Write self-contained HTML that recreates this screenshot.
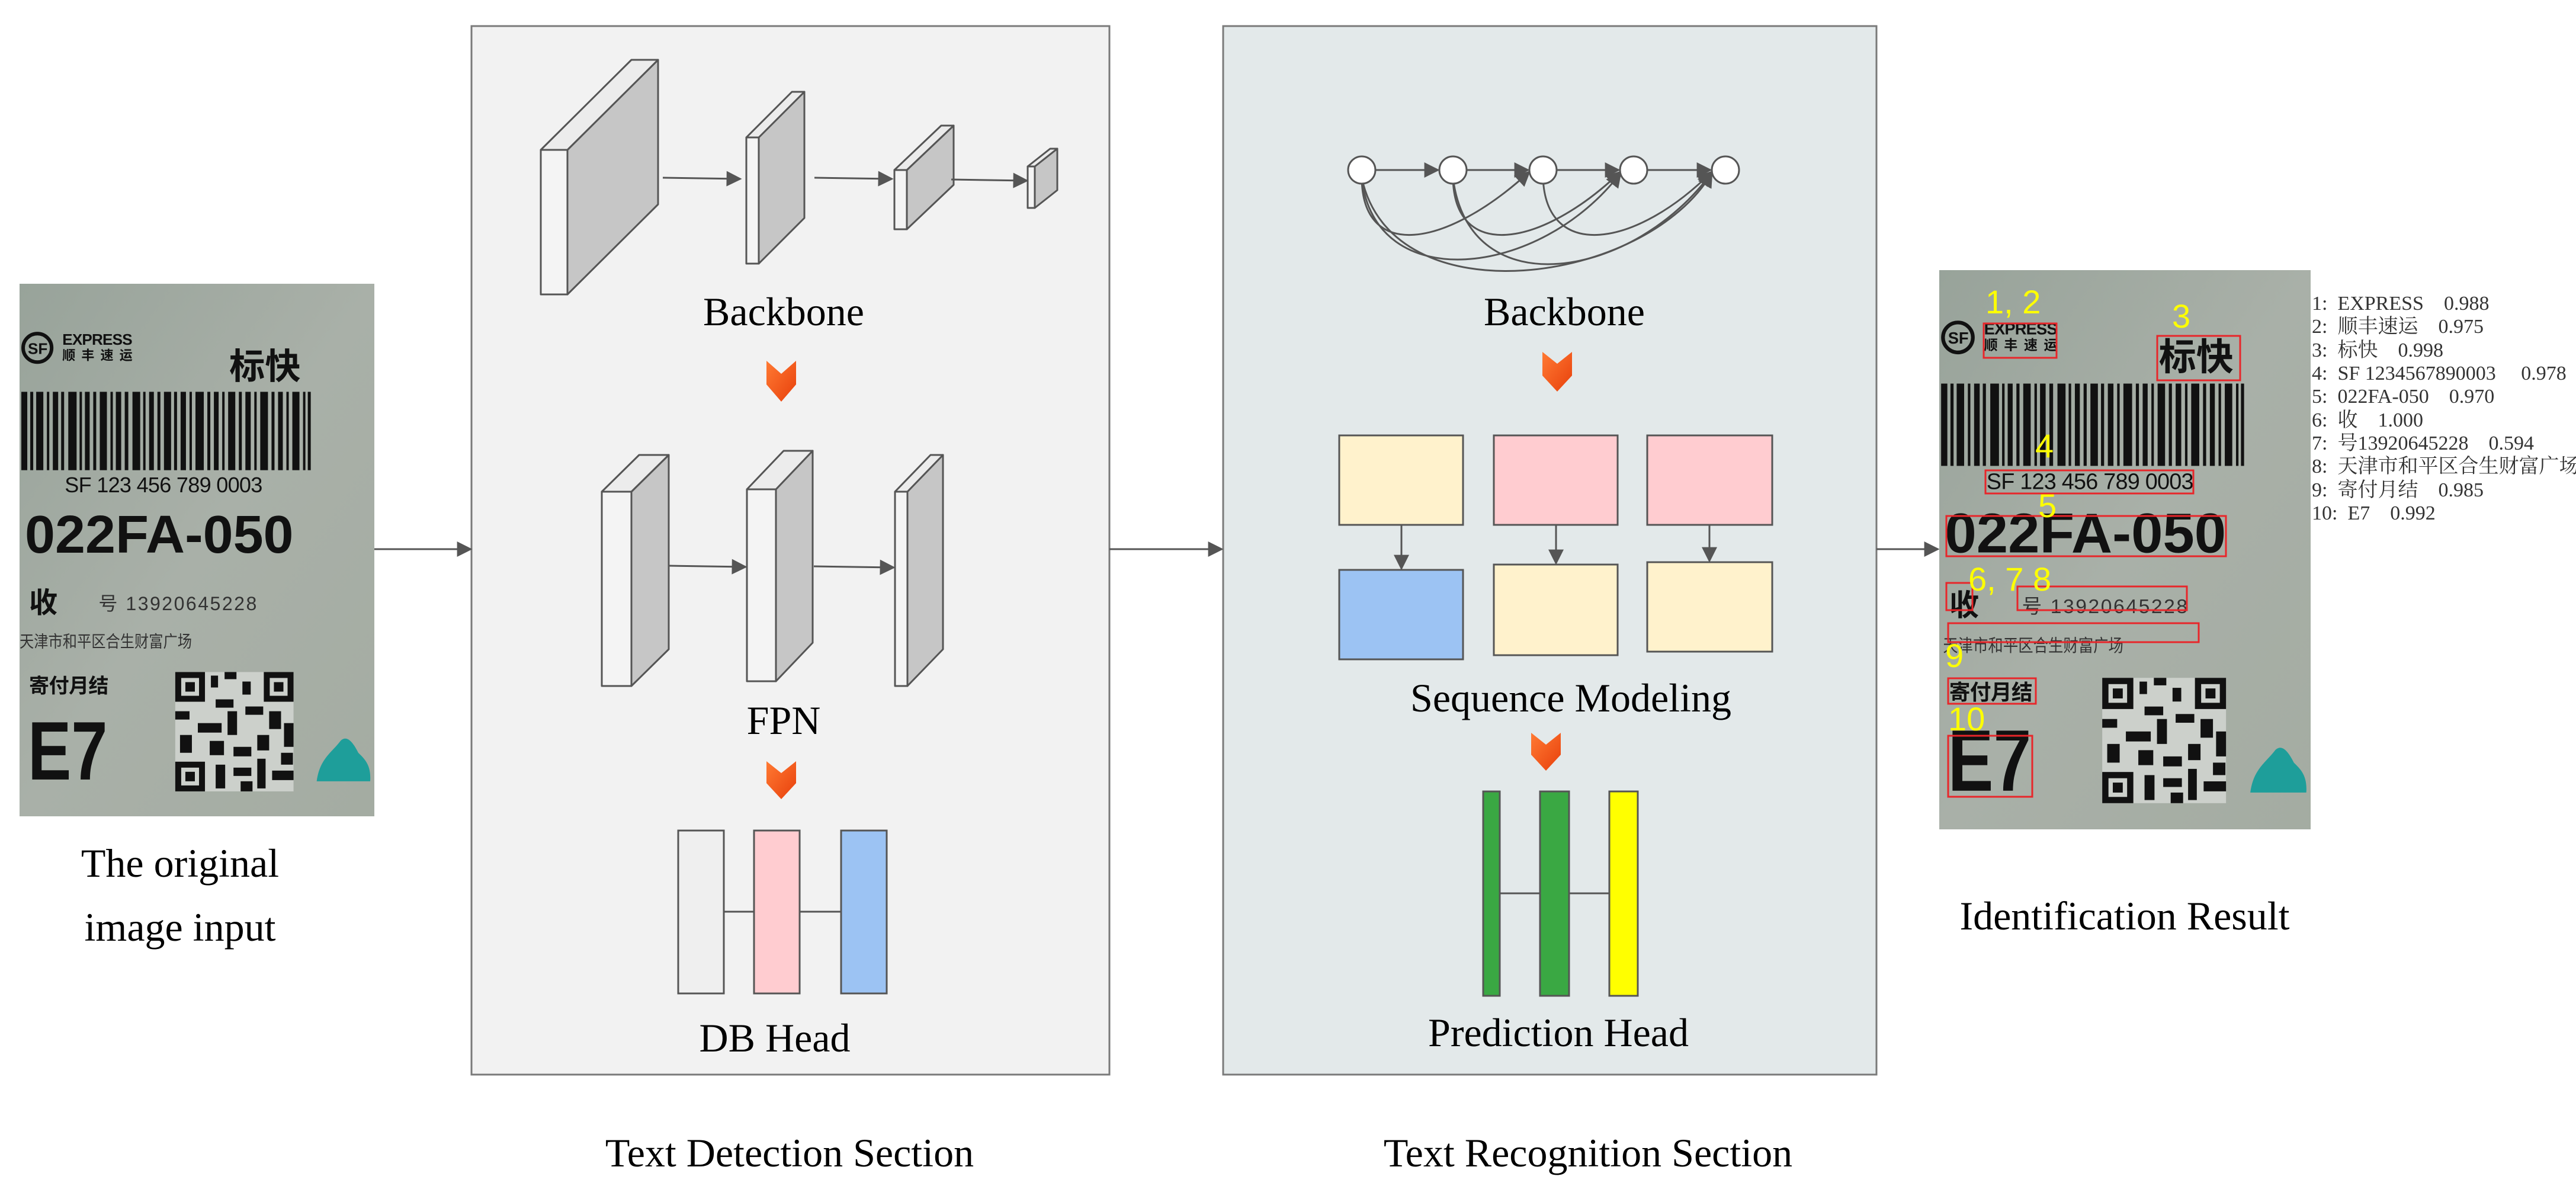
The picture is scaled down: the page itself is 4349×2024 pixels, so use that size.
<!DOCTYPE html>
<html><head><meta charset="utf-8"><style>
html,body{margin:0;padding:0;background:#fff;}
svg text{font-family:"Liberation Serif","Noto Serif CJK SC",serif;}
.sans{font-family:"Liberation Sans","Noto Sans CJK SC",sans-serif;}
</style></head><body>
<svg width="4349" height="2024" viewBox="0 0 4349 2024" xmlns="http://www.w3.org/2000/svg" style="display:block">
<defs>
<marker id="ahb" viewBox="0 0 10 10" refX="9" refY="5" markerWidth="30" markerHeight="26" markerUnits="userSpaceOnUse" orient="auto"><path d="M0,0 L10,5 L0,10 z" fill="#555"/></marker>
<linearGradient id="chev" x1="0" y1="0" x2="1" y2="1"><stop offset="0" stop-color="#ff7a33"/><stop offset="1" stop-color="#e8400c"/></linearGradient>
<linearGradient id="photo" x1="0" y1="0" x2="1" y2="1"><stop offset="0" stop-color="#98a39a"/><stop offset="0.5" stop-color="#a9b0a8"/><stop offset="1" stop-color="#a4aca2"/></linearGradient>
</defs>

<rect x="796" y="44" width="1077" height="1770" fill="#f2f2f2" stroke="#7a7a7a" stroke-width="3"/>
<rect x="2065" y="44" width="1103" height="1770" fill="#e3e9ea" stroke="#7a7a7a" stroke-width="3"/>

<line x1="632" y1="927" x2="795" y2="927" stroke="#555" stroke-width="3" marker-end="url(#ahb)"/>
<line x1="1873" y1="927" x2="2063" y2="927" stroke="#555" stroke-width="3" marker-end="url(#ahb)"/>
<line x1="3168" y1="927" x2="3272" y2="927" stroke="#555" stroke-width="3" marker-end="url(#ahb)"/>

<g stroke="#555" stroke-width="3" stroke-linejoin="round">
<polygon points="958,253 1111,101 1111,345 958,497" fill="#c6c6c6"/>
<polygon points="913,253 1066,101 1111,101 958,253" fill="#ececec"/>
<rect x="913" y="253" width="45" height="244" fill="#f4f4f4"/>
<polygon points="1281,232 1358,155 1358,368 1281,445" fill="#c6c6c6"/>
<polygon points="1260,232 1337,155 1358,155 1281,232" fill="#ececec"/>
<rect x="1260" y="232" width="21" height="213" fill="#f4f4f4"/>
<polygon points="1531,287 1610,212 1610,312 1531,387" fill="#c6c6c6"/>
<polygon points="1510,287 1589,212 1610,212 1531,287" fill="#ececec"/>
<rect x="1510" y="287" width="21" height="100" fill="#f4f4f4"/>
<polygon points="1747,281 1785,251 1785,321 1747,351" fill="#c6c6c6"/>
<polygon points="1735,281 1773,251 1785,251 1747,281" fill="#ececec"/>
<rect x="1735" y="281" width="12" height="70" fill="#f4f4f4"/>
<polygon points="1066,830 1129,768 1129,1096 1066,1158" fill="#c6c6c6"/>
<polygon points="1016,830 1079,768 1129,768 1066,830" fill="#ececec"/>
<rect x="1016" y="830" width="50" height="328" fill="#f4f4f4"/>
<polygon points="1310,826 1372,761 1372,1085 1310,1150" fill="#c6c6c6"/>
<polygon points="1261,826 1323,761 1372,761 1310,826" fill="#ececec"/>
<rect x="1261" y="826" width="49" height="324" fill="#f4f4f4"/>
<polygon points="1532,830 1592,768 1592,1096 1532,1158" fill="#c6c6c6"/>
<polygon points="1511,830 1571,768 1592,768 1532,830" fill="#ececec"/>
<rect x="1511" y="830" width="21" height="328" fill="#f4f4f4"/>
</g>
<g stroke="#555" stroke-width="3" fill="none">
<line x1="1119" y1="300" x2="1250" y2="302" marker-end="url(#ahb)"/>
<line x1="1375" y1="300" x2="1506" y2="302" marker-end="url(#ahb)"/>
<line x1="1606" y1="303" x2="1734" y2="305" marker-end="url(#ahb)"/>
<line x1="1130" y1="955" x2="1259" y2="957" marker-end="url(#ahb)"/>
<line x1="1374" y1="956" x2="1509" y2="958" marker-end="url(#ahb)"/>
</g>

<text x="1323" y="549" font-size="68" text-anchor="middle" fill="#000">Backbone</text>
<polygon points="1294,609 1319,631 1344,609 1344,649 1319,678 1294,649" fill="url(#chev)"/>
<text x="1323" y="1239" font-size="68" text-anchor="middle" fill="#000">FPN</text>
<polygon points="1294,1285 1319,1305 1344,1285 1344,1322 1319,1349 1294,1322" fill="url(#chev)"/>

<line x1="1222" y1="1539" x2="1420" y2="1539" stroke="#555" stroke-width="3"/>
<rect x="1145" y="1402" width="77" height="275" fill="#efefef" stroke="#555" stroke-width="3"/>
<rect x="1273" y="1402" width="77" height="275" fill="#ffccd0" stroke="#555" stroke-width="3"/>
<rect x="1420" y="1402" width="77" height="275" fill="#9cc3f3" stroke="#555" stroke-width="3"/>
<text x="1308" y="1775" font-size="68" text-anchor="middle">DB Head</text>
<text x="1333" y="1969" font-size="68" text-anchor="middle">Text Detection Section</text>

<g stroke="#555" stroke-width="3" fill="none">
<path d="M2299,300 C2300,440 2440,420 2582,290" marker-end="url(#ahb)"/>
<path d="M2299,300 C2320,500 2600,470 2736,292" marker-end="url(#ahb)"/>
<path d="M2299,300 C2350,540 2780,480 2890,292" marker-end="url(#ahb)"/>
<path d="M2453,300 C2455,440 2600,420 2736,290" marker-end="url(#ahb)"/>
<path d="M2453,300 C2480,520 2760,470 2890,291" marker-end="url(#ahb)"/>
<path d="M2605,300 C2610,440 2760,420 2890,290" marker-end="url(#ahb)"/>
<line x1="2323" y1="287" x2="2428" y2="287" marker-end="url(#ahb)"/>
<line x1="2477" y1="287" x2="2580" y2="287" marker-end="url(#ahb)"/>
<line x1="2629" y1="287" x2="2733" y2="287" marker-end="url(#ahb)"/>
<line x1="2782" y1="287" x2="2888" y2="287" marker-end="url(#ahb)"/>
</g>
<g fill="#fff" stroke="#555" stroke-width="3">
<circle cx="2299" cy="287" r="23"/><circle cx="2453" cy="287" r="23"/><circle cx="2605" cy="287" r="23"/><circle cx="2758" cy="287" r="23"/><circle cx="2913" cy="287" r="23"/>
</g>
<text x="2641" y="549" font-size="68" text-anchor="middle">Backbone</text>
<polygon points="2604,594 2629,614 2654,594 2654,634 2629,661 2604,634" fill="url(#chev)"/>

<g stroke="#555" stroke-width="3">
<rect x="2261" y="735" width="209" height="151" fill="#fff2cc"/>
<rect x="2522" y="735" width="209" height="151" fill="#ffccd0"/>
<rect x="2781" y="735" width="211" height="151" fill="#ffccd0"/>
<rect x="2261" y="962" width="209" height="151" fill="#9cc3f3"/>
<rect x="2522" y="953" width="209" height="153" fill="#fff2cc"/>
<rect x="2781" y="949" width="211" height="151" fill="#fff2cc"/>
<line x1="2366" y1="886" x2="2366" y2="960" marker-end="url(#ahb)"/>
<line x1="2627" y1="886" x2="2627" y2="951" marker-end="url(#ahb)"/>
<line x1="2886" y1="886" x2="2886" y2="947" marker-end="url(#ahb)"/>
</g>
<text x="2652" y="1201" font-size="68" text-anchor="middle">Sequence Modeling</text>
<polygon points="2585,1237 2610,1257 2635,1237 2635,1274 2610,1301 2585,1274" fill="url(#chev)"/>

<line x1="2532" y1="1508" x2="2717" y2="1508" stroke="#555" stroke-width="3"/>
<rect x="2504" y="1336" width="28" height="345" fill="#3aa843" stroke="#555" stroke-width="3"/>
<rect x="2600" y="1336" width="49" height="345" fill="#3aa843" stroke="#555" stroke-width="3"/>
<rect x="2717" y="1336" width="48" height="345" fill="#ffff00" stroke="#555" stroke-width="3"/>
<text x="2631" y="1766" font-size="68" text-anchor="middle">Prediction Head</text>
<text x="2681" y="1969" font-size="68" text-anchor="middle">Text Recognition Section</text>

<svg x="33" y="479" width="599" height="899" viewBox="0 0 597 897" preserveAspectRatio="none">
<rect width="597" height="897" fill="url(#photo)"/>
<g class="sans" fill="#111">
<circle cx="30" cy="108" r="24" fill="none" stroke="#111" stroke-width="6"/>
<text x="14" y="118" font-size="26" font-weight="bold" class="sans">SF</text>
<text x="72" y="103" font-size="26" font-weight="bold" class="sans" textLength="118">EXPRESS</text>
<text x="72" y="128" font-size="22" font-weight="bold" class="sans" textLength="118">顺丰速运</text>
<text x="353" y="160" font-size="60" font-weight="bold" class="sans">标快</text>
<g>
<rect x="3" y="182" width="10" height="132"/><rect x="18" y="182" width="5" height="132"/><rect x="28" y="182" width="12" height="132"/><rect x="46" y="182" width="4" height="132"/><rect x="56" y="182" width="9" height="132"/><rect x="70" y="182" width="5" height="132"/><rect x="82" y="182" width="14" height="132"/><rect x="101" y="182" width="4" height="132"/><rect x="110" y="182" width="8" height="132"/><rect x="124" y="182" width="5" height="132"/><rect x="135" y="182" width="12" height="132"/><rect x="153" y="182" width="4" height="132"/><rect x="162" y="182" width="9" height="132"/><rect x="177" y="182" width="6" height="132"/><rect x="190" y="182" width="13" height="132"/><rect x="208" y="182" width="4" height="132"/><rect x="218" y="182" width="8" height="132"/><rect x="232" y="182" width="5" height="132"/><rect x="243" y="182" width="12" height="132"/><rect x="260" y="182" width="5" height="132"/><rect x="271" y="182" width="9" height="132"/><rect x="286" y="182" width="4" height="132"/><rect x="296" y="182" width="14" height="132"/><rect x="316" y="182" width="5" height="132"/><rect x="327" y="182" width="8" height="132"/><rect x="341" y="182" width="4" height="132"/><rect x="351" y="182" width="12" height="132"/><rect x="369" y="182" width="5" height="132"/><rect x="380" y="182" width="9" height="132"/><rect x="395" y="182" width="4" height="132"/><rect x="405" y="182" width="13" height="132"/><rect x="424" y="182" width="5" height="132"/><rect x="435" y="182" width="8" height="132"/><rect x="449" y="182" width="4" height="132"/><rect x="459" y="182" width="12" height="132"/><rect x="477" y="182" width="4" height="132"/><rect x="485" y="182" width="5" height="132"/>
</g>
<text x="76" y="351" font-size="36" class="sans" textLength="333">SF 123 456 789 0003</text>
<text x="9" y="453" font-size="90" font-weight="bold" class="sans" textLength="452" lengthAdjust="spacingAndGlyphs">022FA-050</text>
<text x="16" y="554" font-size="48" font-weight="bold" class="sans">收</text>
<text x="133" y="550" font-size="32" class="sans" textLength="266" fill="#333">号 13920645228</text>
<text x="0" y="612" font-size="28" class="sans" textLength="290" lengthAdjust="spacingAndGlyphs" fill="#333">天津市和平区合生财富广场</text>
<text x="16" y="689" font-size="34" font-weight="bold" class="sans" textLength="134">寄付月结</text>
<text x="14" y="835" font-size="140" font-weight="bold" class="sans" textLength="134" lengthAdjust="spacingAndGlyphs">E7</text>
<g>
<rect x="262" y="654" width="199" height="201" fill="#ccd0cb"/>
<rect x="262" y="654" width="50" height="50"/><rect x="272" y="664" width="30" height="30" fill="#ccd0cb"/><rect x="279" y="671" width="16" height="16"/>
<rect x="411" y="654" width="50" height="50"/><rect x="421" y="664" width="30" height="30" fill="#ccd0cb"/><rect x="428" y="671" width="16" height="16"/>
<rect x="262" y="805" width="50" height="50"/><rect x="272" y="815" width="30" height="30" fill="#ccd0cb"/><rect x="279" y="822" width="16" height="16"/>
<rect x="322" y="660" width="12" height="20"/><rect x="345" y="654" width="20" height="12"/><rect x="375" y="670" width="14" height="22"/><rect x="330" y="700" width="30" height="14"/><rect x="262" y="720" width="24" height="14"/><rect x="300" y="740" width="40" height="16"/><rect x="350" y="720" width="16" height="40"/><rect x="380" y="712" width="30" height="14"/><rect x="420" y="720" width="20" height="30"/><rect x="445" y="740" width="16" height="40"/><rect x="270" y="760" width="20" height="30"/><rect x="320" y="770" width="24" height="24"/><rect x="360" y="780" width="30" height="16"/><rect x="400" y="760" width="20" height="26"/><rect x="330" y="810" width="16" height="40"/><rect x="360" y="815" width="30" height="14"/><rect x="400" y="800" width="14" height="50"/><rect x="425" y="820" width="36" height="16"/><rect x="372" y="838" width="20" height="17"/><rect x="440" y="790" width="20" height="20"/>
</g>
<path d="M500,838 C505,800 525,790 540,770 C550,760 560,770 570,790 C580,800 592,810 590,838 Z" fill="#1e9e9a"/>
</g>
</svg>

<text x="304" y="1480" font-size="68" text-anchor="middle">The original</text>
<text x="304" y="1588" font-size="68" text-anchor="middle">image input</text>

<svg x="3274" y="456" width="627" height="944" viewBox="0 0 597 897" preserveAspectRatio="none">
<rect width="597" height="897" fill="url(#photo)"/>
<g class="sans" fill="#111">
<circle cx="30" cy="108" r="24" fill="none" stroke="#111" stroke-width="6"/>
<text x="14" y="118" font-size="26" font-weight="bold" class="sans">SF</text>
<text x="72" y="103" font-size="26" font-weight="bold" class="sans" textLength="118">EXPRESS</text>
<text x="72" y="128" font-size="22" font-weight="bold" class="sans" textLength="118">顺丰速运</text>
<text x="353" y="160" font-size="60" font-weight="bold" class="sans">标快</text>
<g>
<rect x="3" y="182" width="10" height="132"/><rect x="18" y="182" width="5" height="132"/><rect x="28" y="182" width="12" height="132"/><rect x="46" y="182" width="4" height="132"/><rect x="56" y="182" width="9" height="132"/><rect x="70" y="182" width="5" height="132"/><rect x="82" y="182" width="14" height="132"/><rect x="101" y="182" width="4" height="132"/><rect x="110" y="182" width="8" height="132"/><rect x="124" y="182" width="5" height="132"/><rect x="135" y="182" width="12" height="132"/><rect x="153" y="182" width="4" height="132"/><rect x="162" y="182" width="9" height="132"/><rect x="177" y="182" width="6" height="132"/><rect x="190" y="182" width="13" height="132"/><rect x="208" y="182" width="4" height="132"/><rect x="218" y="182" width="8" height="132"/><rect x="232" y="182" width="5" height="132"/><rect x="243" y="182" width="12" height="132"/><rect x="260" y="182" width="5" height="132"/><rect x="271" y="182" width="9" height="132"/><rect x="286" y="182" width="4" height="132"/><rect x="296" y="182" width="14" height="132"/><rect x="316" y="182" width="5" height="132"/><rect x="327" y="182" width="8" height="132"/><rect x="341" y="182" width="4" height="132"/><rect x="351" y="182" width="12" height="132"/><rect x="369" y="182" width="5" height="132"/><rect x="380" y="182" width="9" height="132"/><rect x="395" y="182" width="4" height="132"/><rect x="405" y="182" width="13" height="132"/><rect x="424" y="182" width="5" height="132"/><rect x="435" y="182" width="8" height="132"/><rect x="449" y="182" width="4" height="132"/><rect x="459" y="182" width="12" height="132"/><rect x="477" y="182" width="4" height="132"/><rect x="485" y="182" width="5" height="132"/>
</g>
<text x="76" y="351" font-size="36" class="sans" textLength="333">SF 123 456 789 0003</text>
<text x="9" y="453" font-size="90" font-weight="bold" class="sans" textLength="452" lengthAdjust="spacingAndGlyphs">022FA-050</text>
<text x="16" y="554" font-size="48" font-weight="bold" class="sans">收</text>
<text x="133" y="550" font-size="32" class="sans" textLength="266" fill="#333">号 13920645228</text>
<text x="6" y="612" font-size="28" class="sans" textLength="290" lengthAdjust="spacingAndGlyphs" fill="#333">天津市和平区合生财富广场</text>
<text x="16" y="689" font-size="34" font-weight="bold" class="sans" textLength="134">寄付月结</text>
<text x="14" y="835" font-size="140" font-weight="bold" class="sans" textLength="134" lengthAdjust="spacingAndGlyphs">E7</text>
<g>
<rect x="262" y="654" width="199" height="201" fill="#ccd0cb"/>
<rect x="262" y="654" width="50" height="50"/><rect x="272" y="664" width="30" height="30" fill="#ccd0cb"/><rect x="279" y="671" width="16" height="16"/>
<rect x="411" y="654" width="50" height="50"/><rect x="421" y="664" width="30" height="30" fill="#ccd0cb"/><rect x="428" y="671" width="16" height="16"/>
<rect x="262" y="805" width="50" height="50"/><rect x="272" y="815" width="30" height="30" fill="#ccd0cb"/><rect x="279" y="822" width="16" height="16"/>
<rect x="322" y="660" width="12" height="20"/><rect x="345" y="654" width="20" height="12"/><rect x="375" y="670" width="14" height="22"/><rect x="330" y="700" width="30" height="14"/><rect x="262" y="720" width="24" height="14"/><rect x="300" y="740" width="40" height="16"/><rect x="350" y="720" width="16" height="40"/><rect x="380" y="712" width="30" height="14"/><rect x="420" y="720" width="20" height="30"/><rect x="445" y="740" width="16" height="40"/><rect x="270" y="760" width="20" height="30"/><rect x="320" y="770" width="24" height="24"/><rect x="360" y="780" width="30" height="16"/><rect x="400" y="760" width="20" height="26"/><rect x="330" y="810" width="16" height="40"/><rect x="360" y="815" width="30" height="14"/><rect x="400" y="800" width="14" height="50"/><rect x="425" y="820" width="36" height="16"/><rect x="372" y="838" width="20" height="17"/><rect x="440" y="790" width="20" height="20"/>
</g>
<path d="M500,838 C505,800 525,790 540,770 C550,760 560,770 570,790 C580,800 592,810 590,838 Z" fill="#1e9e9a"/>
</g>
</svg>
<g fill="none" stroke="#e8262a" stroke-width="3">
<rect x="3349" y="546" width="123" height="58"/>
<rect x="3642" y="567" width="140" height="75"/>
<rect x="3352" y="794" width="351" height="39"/>
<rect x="3286" y="871" width="472" height="68"/>
<rect x="3286" y="984" width="44" height="46"/>
<rect x="3406" y="990" width="286" height="40"/>
<rect x="3289" y="1052" width="423" height="32"/>
<rect x="3289" y="1145" width="148" height="43"/>
<rect x="3289" y="1242" width="142" height="103"/>
</g>
<g fill="#ffff00" font-size="56" class="sans">
<text x="3352" y="529" class="sans">1, 2</text>
<text x="3667" y="553" class="sans">3</text>
<text x="3436" y="772" class="sans">4</text>
<text x="3441" y="873" class="sans">5</text>
<text x="3323" y="997" class="sans">6, 7  8</text>
<text x="3284" y="1126" class="sans">9</text>
<text x="3289" y="1233" class="sans">10</text>
</g>
<g font-size="34" fill="#333">
<text x="3903" y="523" xml:space="preserve">1:  EXPRESS    0.988</text>
<text x="3903" y="562" xml:space="preserve">2:  顺丰速运    0.975</text>
<text x="3903" y="602" xml:space="preserve">3:  标快    0.998</text>
<text x="3903" y="641" xml:space="preserve">4:  SF 1234567890003     0.978</text>
<text x="3903" y="680" xml:space="preserve">5:  022FA-050    0.970</text>
<text x="3903" y="720" xml:space="preserve">6:  收    1.000</text>
<text x="3903" y="759" xml:space="preserve">7:  号13920645228    0.594</text>
<text x="3903" y="798" xml:space="preserve">8:  天津市和平区合生财富广场</text>
<text x="3903" y="838" xml:space="preserve">9:  寄付月结    0.985</text>
<text x="3903" y="877" xml:space="preserve">10:  E7    0.992</text>
</g>
<text x="3587" y="1569" font-size="68" text-anchor="middle">Identification Result</text>
</svg>
</body></html>
